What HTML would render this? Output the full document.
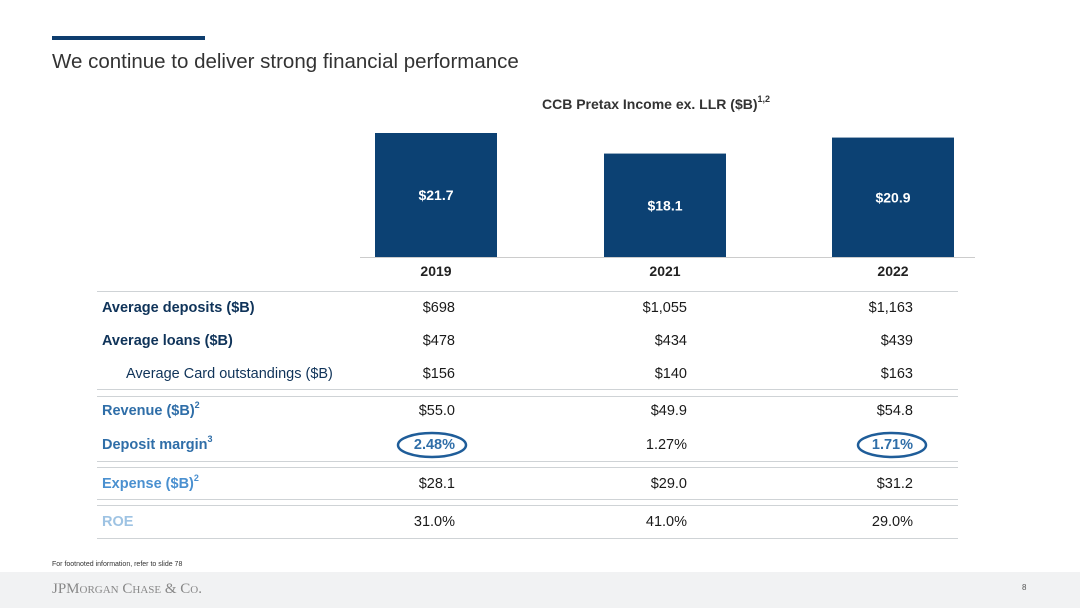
<!DOCTYPE html>
<html><head><meta charset="utf-8"><style>
body{margin:0;width:1080px;height:608px;position:relative;background:#fff;font-family:"Liberation Sans",Arial,sans-serif;overflow:hidden}
.a{position:absolute;white-space:nowrap}
.ln{position:absolute;left:97px;width:861px;height:1px;background:#cfd3d6}
.lbl{position:absolute;left:102px;font-size:14.5px;font-weight:bold;line-height:18px}
.v{position:absolute;font-size:14.5px;color:#1a1a1a;text-align:right;width:100px;line-height:18px}
sup{font-size:9px;vertical-align:top;line-height:0;position:relative;top:3px}
</style></head><body>
<div class="a" style="left:52px;top:36px;width:153px;height:4px;background:#0e3d6e"></div>
<div class="a" style="left:52px;top:50px;font-size:20.5px;color:#333">We continue to deliver strong financial performance</div>
<div class="a" style="left:542px;top:96px;font-size:14px;font-weight:bold;color:#333">CCB Pretax Income ex. LLR ($B)<sup>1,2</sup></div>
<svg id="chart" width="1080" height="300" style="position:absolute;left:0;top:0"></svg>
<div class="ln" style="top:291px"></div>
<div class="ln" style="top:389px"></div><div class="ln" style="top:396px"></div>
<div class="ln" style="top:461px"></div><div class="ln" style="top:467px"></div>
<div class="ln" style="top:499px"></div><div class="ln" style="top:505px"></div>
<div class="ln" style="top:538px"></div>
<div id="tbl"></div>
<svg width="1080" height="608" style="position:absolute;left:0;top:0;pointer-events:none">
<ellipse cx="432" cy="445" rx="34" ry="12" fill="none" stroke="#1f5d99" stroke-width="2.5"/>
<ellipse cx="892" cy="445" rx="34" ry="12" fill="none" stroke="#1f5d99" stroke-width="2.5"/>
</svg>
<div class="a" style="left:52px;top:561px;font-size:7px;color:#333">For footnoted information, refer to slide 78</div>
<div class="a" style="left:0;top:572px;width:1080px;height:36px;background:#f1f2f3"></div>
<div class="a" style="left:52px;top:581px;font-family:'Liberation Serif',serif;font-size:15px;color:#888;font-variant:small-caps">JPMorgan Chase &amp; Co.</div>
<div class="a" style="left:1022px;top:583px;font-size:8px;color:#555">8</div>
<script>
const years=["2019","2021","2022"];
const pretax=[21.7,18.1,20.9];
const rowLabels=["Average deposits ($B)","Average loans ($B)","Average Card outstandings ($B)","Revenue ($B)","Deposit margin","Expense ($B)","ROE"];
const rowSups=["","","","2","3","2",""];
const rowValues=[["$698","$1,055","$1,163"],["$478","$434","$439"],["$156","$140","$163"],["$55.0","$49.9","$54.8"],["2.48%","1.27%","1.71%"],["$28.1","$29.0","$31.2"],["31.0%","41.0%","29.0%"]];
const rowColors=["#0f3359","#0f3359","#0f3359","#2f6ea8","#2f6ea8","#4a90d0","#9ec3e3"];
const rowY=[308,341,374,411,445,484,522];
const ns="http://www.w3.org/2000/svg",svg=document.getElementById('chart');
const base=257,scale=124/21.7,barX=[375,604,832],bw=122;
const y=v=>base-v*scale;
pretax.forEach((v,i)=>{
 const r=document.createElementNS(ns,'rect');
 
 
 r.setAttribute('x',barX[i]);r.setAttribute('y',y(v));r.setAttribute('width',bw);r.setAttribute('height',base-y(v));r.setAttribute('fill','#0c4173');
 svg.appendChild(r);
 const t=document.createElementNS(ns,'text');
 
 
 t.setAttribute('x',barX[i]+bw/2);t.setAttribute('y',(y(v)+base)/2+5);t.setAttribute('text-anchor','middle');t.setAttribute('fill','#fff');t.setAttribute('font-size','14');t.setAttribute('font-weight','bold');
 t.textContent='$'+v.toFixed(1);svg.appendChild(t);
 const yl=document.createElementNS(ns,'text');
 
 
 yl.setAttribute('x',barX[i]+bw/2);yl.setAttribute('y',276);yl.setAttribute('text-anchor','middle');yl.setAttribute('fill','#222');yl.setAttribute('font-size','14');yl.setAttribute('font-weight','bold');
 yl.textContent=years[i];svg.appendChild(yl);
});
const bl=document.createElementNS(ns,'line');


bl.setAttribute('x1',360);bl.setAttribute('x2',975);bl.setAttribute('y1',base+0.5);bl.setAttribute('y2',base+0.5);bl.setAttribute('stroke','#ccc');svg.appendChild(bl);
const tbl=document.getElementById('tbl'),colR=[455,687,913];
rowLabels.forEach((l,i)=>{
 const d=document.createElement('div');
 
 
 d.className='lbl';d.style.top=(rowY[i]-9)+'px';d.style.color=rowColors[i];
 if(i==2){d.style.left='126px';d.style.fontWeight='normal';}
 d.innerHTML=l+(rowSups[i]?'<sup>'+rowSups[i]+'</sup>':'');tbl.appendChild(d);
 rowValues[i].forEach((v,j)=>{
  const c=document.createElement('div');
  
  
  c.className='v';c.style.left=(colR[j]-100)+'px';c.style.top=(rowY[i]-9)+'px';
  if(i==4&&j!=1){c.style.color='#2f6ea8';c.style.fontWeight='bold';}
  c.textContent=v;tbl.appendChild(c);
 });
});
</script>
</body></html>
